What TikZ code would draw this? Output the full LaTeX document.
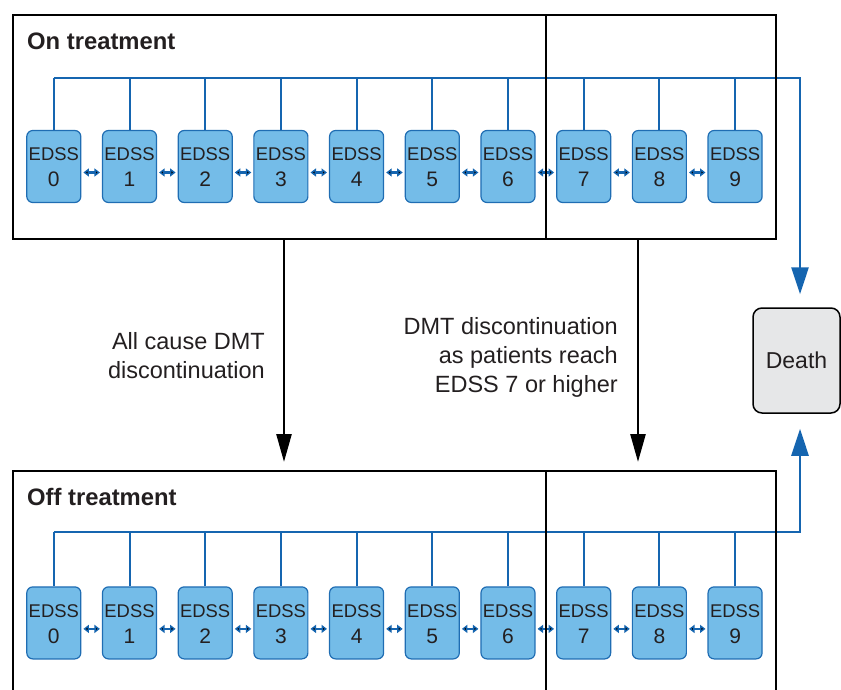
\documentclass[tikz,border=0pt]{standalone}
\usepackage{fontspec}
\setmainfont{Liberation Sans}
\usetikzlibrary{arrows.meta}
\usetikzlibrary{matrix}
\usetikzlibrary{positioning}

\definecolor{edssfill}{HTML}{74BCE8}
\definecolor{edssline}{HTML}{1F6DB3}
\definecolor{busblue}{HTML}{1565B0}
\definecolor{deathfill}{HTML}{E6E7E8}
\definecolor{inkgray}{HTML}{231F20}

% two-line EDSS label, nudged so the text sits like the original
\newcommand{\edss}[1]{\raisebox{0pt}[\height][\dimexpr\depth-6pt\relax]{%
  \begin{tabular}{@{}c@{}}EDSS\\[4pt]{\fontsize{21}{25}\selectfont #1}\end{tabular}}}

\tikzset{
  edssbox/.style={draw=edssline,fill=edssfill,rounded corners=6pt,line width=1.2pt,
    minimum width=54pt,minimum height=72pt,inner sep=0pt,anchor=center,
    text=inkgray,font=\fontsize{18.4}{22}\selectfont},
  drop/.style={draw=busblue,line width=2pt},
  bus/.style={draw=busblue,line width=2.8pt,-{Triangle[length=27pt,width=17pt]}},
  pair/.style={draw=busblue,line width=2.2pt,
    every edge/.append style={shorten <=2pt,shorten >=2pt,
      {Triangle[length=5.5pt,width=8pt]}-{Triangle[length=5.5pt,width=8pt]}}},
  panel/.style={draw=black,line width=1.5pt},
  cut/.style={draw=black,line width=2.6pt,shorten >=9pt,-{Triangle[length=28pt,width=15pt]}},
  cutlabel/.style={align=right,inner sep=0pt,text=inkgray,font=\fontsize{23.5}{29}\selectfont},
  title/.style={inner sep=0pt,text=inkgray,font=\fontsize{23.8}{28}\selectfont\bfseries},
  deathbox/.style={draw=black,fill=deathfill,rounded corners=9pt,line width=1.5pt,
    minimum width=87pt,minimum height=105pt,text=inkgray,font=\fontsize{23}{27}\selectfont}
}

\begin{document}
\begin{tikzpicture}[x=1pt,y=-1pt]

  \useasboundingbox (0,0) rectangle (841,690);

  \matrix [matrix of nodes,column sep=20.5pt,inner sep=0pt,anchor=west,nodes={edssbox}] at (26,166.5) {
    |(on0)| \edss{0} & |(on1)| \edss{1} & |(on2)| \edss{2} & |(on3)| \edss{3} & |(on4)| \edss{4} &
    |(on5)| \edss{5} & |(on6)| \edss{6} & |(on7)| \edss{7} & |(on8)| \edss{8} & |(on9)| \edss{9} \\
  };

  \matrix [matrix of nodes,column sep=20.5pt,inner sep=0pt,anchor=west,nodes={edssbox}] at (26,622.9) {
    |(off0)| \edss{0} & |(off1)| \edss{1} & |(off2)| \edss{2} & |(off3)| \edss{3} & |(off4)| \edss{4} &
    |(off5)| \edss{5} & |(off6)| \edss{6} & |(off7)| \edss{7} & |(off8)| \edss{8} & |(off9)| \edss{9} \\
  };

  \node [deathbox] (death) at (796.5,360.5) {Death};

  \coordinate (onbus) at (800,78);
  \coordinate (offbus) at (800,532);

  \path [drop]
    (on0.north) edge (on0.north |- onbus) (on1.north) edge (on1.north |- onbus)
    (on2.north) edge (on2.north |- onbus) (on3.north) edge (on3.north |- onbus)
    (on4.north) edge (on4.north |- onbus) (on5.north) edge (on5.north |- onbus)
    (on6.north) edge (on6.north |- onbus) (on7.north) edge (on7.north |- onbus)
    (on8.north) edge (on8.north |- onbus) (on9.north) edge (on9.north |- onbus);

  \path [drop]
    (off0.north) edge (off0.north |- offbus) (off1.north) edge (off1.north |- offbus)
    (off2.north) edge (off2.north |- offbus) (off3.north) edge (off3.north |- offbus)
    (off4.north) edge (off4.north |- offbus) (off5.north) edge (off5.north |- offbus)
    (off6.north) edge (off6.north |- offbus) (off7.north) edge (off7.north |- offbus)
    (off8.north) edge (off8.north |- offbus) (off9.north) edge (off9.north |- offbus);

  \draw [bus,shorten >=13pt] (on0.north |- onbus) -- (onbus) -- (onbus |- death.north);
  \draw [bus,shorten >=15pt] (off0.north |- offbus) -- (offbus) -- (offbus |- death.south);

  \path [pair]
    ([yshift=-6pt]on0.east) edge ([yshift=-6pt]on1.west) ([yshift=-6pt]on1.east) edge ([yshift=-6pt]on2.west)
    ([yshift=-6pt]on2.east) edge ([yshift=-6pt]on3.west) ([yshift=-6pt]on3.east) edge ([yshift=-6pt]on4.west)
    ([yshift=-6pt]on4.east) edge ([yshift=-6pt]on5.west) ([yshift=-6pt]on5.east) edge ([yshift=-6pt]on6.west)
    ([yshift=-6pt]on6.east) edge ([yshift=-6pt]on7.west) ([yshift=-6pt]on7.east) edge ([yshift=-6pt]on8.west)
    ([yshift=-6pt]on8.east) edge ([yshift=-6pt]on9.west);

  \path [pair]
    ([yshift=-6pt]off0.east) edge ([yshift=-6pt]off1.west) ([yshift=-6pt]off1.east) edge ([yshift=-6pt]off2.west)
    ([yshift=-6pt]off2.east) edge ([yshift=-6pt]off3.west) ([yshift=-6pt]off3.east) edge ([yshift=-6pt]off4.west)
    ([yshift=-6pt]off4.east) edge ([yshift=-6pt]off5.west) ([yshift=-6pt]off5.east) edge ([yshift=-6pt]off6.west)
    ([yshift=-6pt]off6.east) edge ([yshift=-6pt]off7.west) ([yshift=-6pt]off7.east) edge ([yshift=-6pt]off8.west)
    ([yshift=-6pt]off8.east) edge ([yshift=-6pt]off9.west);

  % panels
  \draw [panel] (13,15) rectangle (776,239);
  \draw [panel] (546,15) -- (546,239);
  \draw [panel] (13,690) |- (776,471) -- (776,690);
  \draw [panel] (546,471) -- (546,690);

  \node [title,anchor=base west] (ontitle) at (27,50) {On treatment};
  \node [title,anchor=base west] (offtitle) at (27,505) {Off treatment};

  \coordinate (allfrom) at (284,239);
  \coordinate (allto) at (284,471);
  \coordinate (sevfrom) at (638,239);
  \coordinate (sevto) at (638,471);

  \draw [cut] (allfrom) -- (allto);
  \draw [cut] (sevfrom) -- (sevto);

  \node [cutlabel,anchor=east] (alllab) at (265,355.5) {All cause DMT\\discontinuation};
  \node [cutlabel,anchor=east] (sevlab) at (618,357) {DMT discontinuation\\as patients reach\\EDSS 7 or higher};

\end{tikzpicture}
\end{document}
